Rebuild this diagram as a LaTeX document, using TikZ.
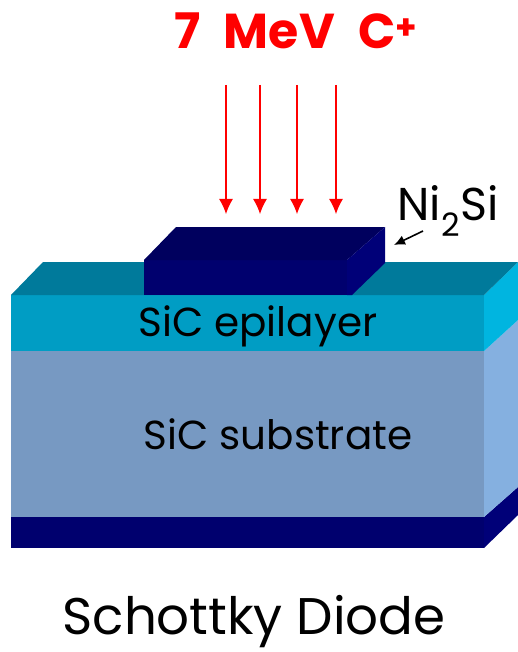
\documentclass[tikz,border=0pt]{standalone}
\usepackage{fontspec}
\setmainfont{Poppins}
\usepackage{tikz}
\usetikzlibrary{arrows.meta}
\definecolor{contacttop}{HTML}{00005E}
\definecolor{contactfront}{HTML}{00006E}
\definecolor{contactside}{HTML}{000078}
\definecolor{epitop}{HTML}{007A9B}
\definecolor{epifront}{HTML}{009DC4}
\definecolor{episide}{HTML}{00B5E0}
\definecolor{subfront}{HTML}{7799C2}
\definecolor{subside}{HTML}{85B0E0}
\tikzset{
  beam/.style = {red, line width=1.2pt, -{Latex[length=15pt,width=14pt]}},
  pointer/.style = {black, line width=1.6pt, -{Latex[length=11pt,width=10pt]}},
  layerlabel/.style = {inner sep=0pt, font=\fontsize{40.5}{40.5}\selectfont}
}
\begin{document}
\begin{tikzpicture}[x=1pt,y=-1pt]
  \useasboundingbox (0,0) rectangle (518,652);
  \fill [contactfront] (11,517) rectangle (484,548);
  \fill [contactside] (484,517) -- (518,487) -- (518,515) -- (484,548) -- cycle;
  \fill [subfront] (11,351) rectangle (484,517);
  \fill [subside] (484,351) -- (518,320) -- (518,487) -- (484,517) -- cycle;
  \fill [epifront] (11,295) rectangle (484,351);
  \fill [episide] (484,295) -- (518,262) -- (518,320) -- (484,351) -- cycle;
  \fill [epitop] (11,295) -- (43,262) -- (518,262) -- (484,295) -- cycle;
  \fill [contactfront] (144,260) rectangle (347,295);
  \fill [contacttop] (144,260) -- (176,227) -- (385,227) -- (347,260) -- cycle;
  \fill [contactside] (347,260) -- (385,227) -- (385,263) -- (352,295) -- (347,295) -- cycle;
  \foreach \name/\xpos in {a/226,b/260,c/297,d/336} {
    \coordinate (top\name) at (\xpos,85);
    \coordinate (tip\name) at (\xpos,214);
    \draw [beam] (top\name) -- (tip\name);
  }
  \node (beamlabel) at (296,31) [inner sep=0pt, red, font=\fontsize{49}{49}\selectfont\bfseries] {7\hspace{13pt} MeV\hspace{13pt} C\textsuperscript{+}};
  \node (metal) at (448,211) [inner sep=0pt, font=\fontsize{46}{46}\selectfont] {Ni\textsubscript{2}Si};
  \coordinate (metaltail) at (423,231);
  \coordinate (metaltip) at (394,245);
  \draw [pointer] (metaltail) -- (metaltip);
  \node (epilayer) at (258,326) [layerlabel] {SiC epilayer};
  \node (substrate) at (278,434) [layerlabel] {SiC substrate};
  \node (device) at (254,622) [inner sep=0pt, font=\fontsize{51.5}{51.5}\selectfont] {Schottky Diode};
\end{tikzpicture}
\end{document}
